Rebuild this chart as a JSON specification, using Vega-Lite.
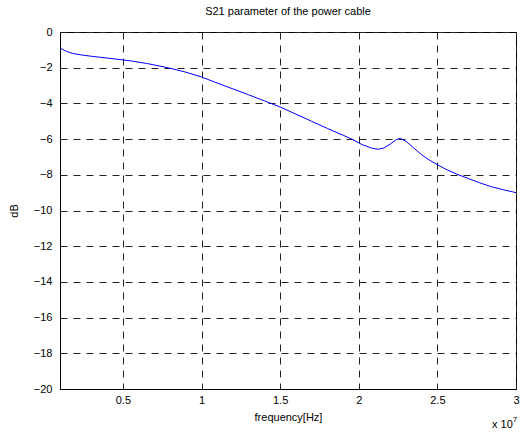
{
  "$schema": "https://vega.github.io/schema/vega-lite/v6.json",
  "autosize": {"type": "none"},
  "width": 456,
  "height": 357,
  "padding": {"left": 60, "top": 32, "right": 7, "bottom": 44},
  "title": {"text": "S21 parameter of the power cable", "fontSize": 11, "fontWeight": "normal", "font": "Liberation Sans", "offset": 9, "color": "black"},
  "config": {
    "font": "Liberation Sans",
    "view": {"stroke": "black", "strokeWidth": 1},
    "axis": {"domainColor": "black", "labelColor": "black", "titleColor": "black", "labelFontSize": 11, "titleFontSize": 11, "titleFontWeight": "normal", "labelFont": "Liberation Sans", "titleFont": "Liberation Sans", "gridColor": "#222222", "gridOpacity": 1, "gridDash": [7, 6], "gridWidth": 1, "ticks": false, "labelOverlap": false, "tickCount": 30}
  },
  "layer": [
    {
      "data": {"values": [
        {"f": 1000000, "db": -0.9},
        {"f": 1400000, "db": -1.08},
        {"f": 1800000, "db": -1.2},
        {"f": 2400000, "db": -1.29},
        {"f": 3000000, "db": -1.36},
        {"f": 3800000, "db": -1.44},
        {"f": 4500000, "db": -1.51},
        {"f": 5500000, "db": -1.62},
        {"f": 6500000, "db": -1.76},
        {"f": 7300000, "db": -1.9},
        {"f": 8000000, "db": -2.03},
        {"f": 9000000, "db": -2.25},
        {"f": 10000000, "db": -2.52},
        {"f": 11000000, "db": -2.86},
        {"f": 12000000, "db": -3.19},
        {"f": 13000000, "db": -3.52},
        {"f": 14000000, "db": -3.86},
        {"f": 15000000, "db": -4.2},
        {"f": 16000000, "db": -4.6},
        {"f": 17000000, "db": -5.0},
        {"f": 18000000, "db": -5.4},
        {"f": 19000000, "db": -5.78},
        {"f": 19600000, "db": -6.02},
        {"f": 20200000, "db": -6.3},
        {"f": 20800000, "db": -6.5},
        {"f": 21200000, "db": -6.57},
        {"f": 21600000, "db": -6.5},
        {"f": 22000000, "db": -6.28},
        {"f": 22400000, "db": -6.02},
        {"f": 22650000, "db": -5.96},
        {"f": 23000000, "db": -6.12},
        {"f": 23500000, "db": -6.5},
        {"f": 24000000, "db": -6.88},
        {"f": 24500000, "db": -7.18},
        {"f": 25000000, "db": -7.43},
        {"f": 25500000, "db": -7.67},
        {"f": 26200000, "db": -7.95},
        {"f": 27000000, "db": -8.22},
        {"f": 27700000, "db": -8.45},
        {"f": 28400000, "db": -8.66},
        {"f": 29200000, "db": -8.84},
        {"f": 30000000, "db": -9.0}
      ]},
      "mark": {"type": "line", "color": "#0000ff", "strokeWidth": 1, "clip": true},
      "encoding": {
        "x": {"field": "f", "type": "quantitative", "scale": {"domain": [1000000, 30000000], "nice": false, "zero": false},
              "axis": {"title": "frequency[Hz]", "values": [5000000, 10000000, 15000000, 20000000, 25000000, 30000000], "labelExpr": "datum.value/10000000", "labelPadding": 5, "titlePadding": 6, "labelFlush": false}},
        "y": {"field": "db", "type": "quantitative", "scale": {"domain": [-20, 0], "nice": false},
              "axis": {"title": "dB", "format": "d", "values": [0, -2, -4, -6, -8, -10, -12, -14, -16, -18, -20], "labelPadding": 8, "titlePadding": 14, "labelFlush": false}}
      }
    },
    {
      "data": {"values": [{"label": "x 10"}]},
      "mark": {"type": "text", "font": "Liberation Sans", "fontSize": 11, "fontWeight": "normal", "color": "black", "align": "right", "baseline": "alphabetic", "dy": 39},
      "encoding": {"text": {"field": "label"}, "x": {"datum": 29800000, "type": "quantitative"}, "y": {"datum": -20, "type": "quantitative"}}
    },
    {
      "data": {"values": [{"label": "7"}]},
      "mark": {"type": "text", "font": "Liberation Sans", "fontSize": 8, "fontWeight": "normal", "color": "black", "align": "left", "baseline": "alphabetic", "dy": 33},
      "encoding": {"text": {"field": "label"}, "x": {"datum": 29800000, "type": "quantitative"}, "y": {"datum": -20, "type": "quantitative"}}
    }
  ]
}
